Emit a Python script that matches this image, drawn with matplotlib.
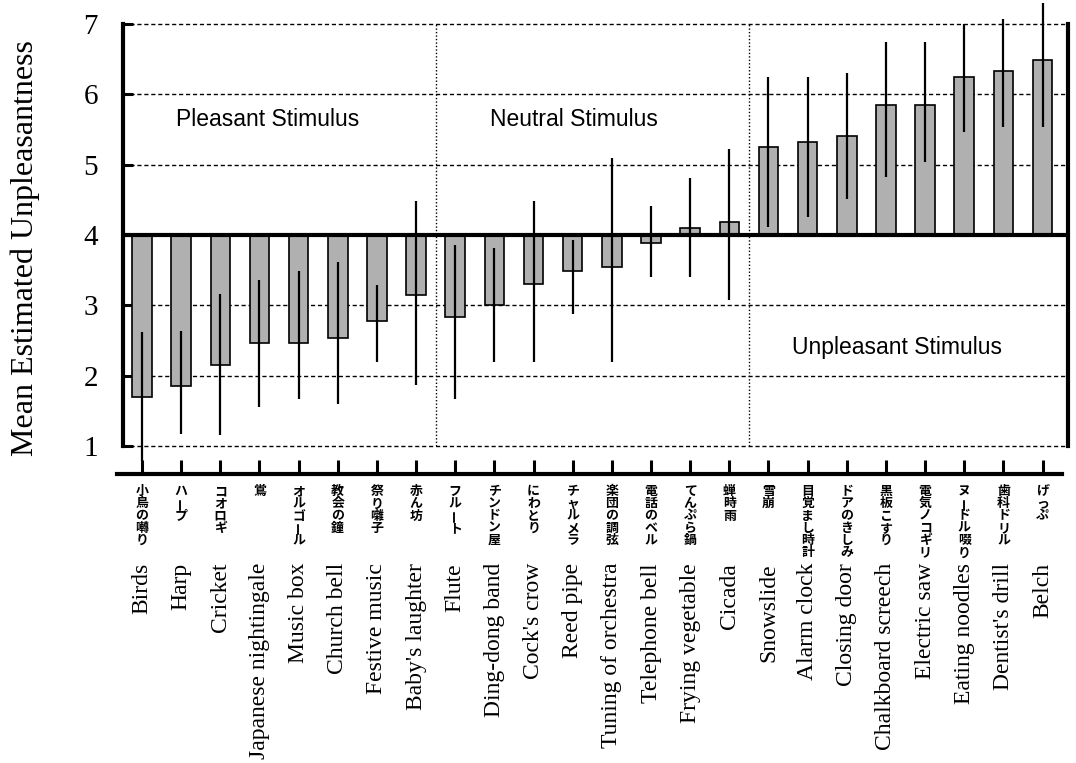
import numpy as np
import matplotlib
matplotlib.use("Agg")
import matplotlib.pyplot as plt

# sound stimuli, sorted by mean rating
en_labels = ["Birds", "Harp", "Cricket", "Japanese nightingale", "Music box",
             "Church bell", "Festive music", "Baby's laughter", "Flute",
             "Ding-dong band", "Cock's crow", "Reed pipe", "Tuning of orchestra",
             "Telephone bell", "Frying vegetable", "Cicada", "Snowslide",
             "Alarm clock", "Closing door", "Chalkboard screech", "Electric saw",
             "Eating noodles", "Dentist's drill", "Belch"]
jp_labels = ["小鳥の囀り", "ハープ", "コオロギ", "鴬", "オルゴール", "教会の鐘",
             "祭り囃子", "赤ん坊", "フルート", "チンドン屋", "にわとり", "チャルメラ",
             "楽団の調弦", "電話のベル", "てんぷら鍋", "蝉時雨", "雪崩", "目覚まし時計",
             "ドアのきしみ", "黒板こすり", "電気ノコギリ", "ヌードル啜り", "歯科ドリル",
             "げっぷ"]

means = np.array([1.69, 1.85, 2.15, 2.46, 2.46, 2.53, 2.78, 3.14, 2.84, 3.00,
                  3.30, 3.49, 3.55, 3.88, 4.10, 4.19, 5.25, 5.32, 5.41, 5.85,
                  5.85, 6.25, 6.33, 6.49])
err_lo = np.array([0.79, 1.17, 1.15, 1.55, 1.67, 1.60, 2.19, 1.87, 1.67, 2.19,
                   2.19, 2.87, 2.19, 3.40, 3.40, 3.07, 4.12, 4.26, 4.51, 4.82,
                   5.04, 5.46, 5.53, 5.53])
err_hi = np.array([2.62, 2.64, 3.16, 3.36, 3.49, 3.62, 3.29, 4.49, 3.86, 3.81,
                   4.49, 3.93, 5.10, 4.41, 4.81, 5.23, 6.24, 6.24, 6.30, 6.75,
                   6.75, 7.00, 7.07, 7.30])

x = np.arange(len(means))
serif = "Liberation Serif"
jp_font = ["Noto Sans CJK JP", "DejaVu Sans"]

fig = plt.figure(figsize=(10.76, 7.63), dpi=100)
ax = fig.add_axes([0.1143, 0.4155, 0.8783, 0.553])

# grid
for yv in [1, 2, 3, 5, 6, 7]:
    ax.axhline(yv, color="black", lw=1.0, ls=(0, (3, 2)), zorder=1, clip_on=False)
for xv in [7.5, 15.5]:
    ax.axvline(xv, color="black", lw=1.0, ls=(0, (1, 1.5)), zorder=1)

ax.bar(x, means - 4, bottom=4, width=0.5, color="#b0b0b0",
       edgecolor="black", linewidth=1.2, zorder=2)
ax.axhline(4, color="black", lw=3, zorder=3)

eb = ax.errorbar(x, means, yerr=[means - err_lo, err_hi - means], fmt="none",
                 ecolor="black", elinewidth=1.6, capsize=0, zorder=4)
for c in eb.lines[2]:
    c.set_clip_on(False)

ax.set_xlim(-0.485, 23.65)
ax.set_ylim(1, 7)
ax.set_yticks([1, 2, 3, 4, 5, 6, 7])
ax.set_yticklabels(["1", "2", "3", "4", "5", "6", "7"], fontsize=21, family=serif)
ax.tick_params(axis="y", direction="in", length=7, width=2.2, pad=18)

ax.set_xticks(x)
ax.tick_params(axis="x", direction="in", length=10, width=2.2, labelbottom=False)

ax.spines["top"].set_visible(False)
ax.spines["left"].set_linewidth(3)
ax.spines["right"].set_linewidth(3)
ax.spines["bottom"].set_linewidth(3)
ax.spines["bottom"].set_position(("outward", 20))
ax.spines["bottom"].set_bounds(-0.64, 23.5)

# category labels
for i in range(len(x)):
    for k, ch in enumerate(jp_labels[i]):
        ax.annotate(ch, xy=(i, 0), xycoords=("data", "axes fraction"),
                    xytext=(0, -45 - 12.3 * k), textcoords="offset pixels",
                    ha="center", va="center", fontsize=9.3, fontweight="bold",
                    family=jp_font, rotation=90 if ch == "ー" else 0,
                    annotation_clip=False)
    ax.annotate(en_labels[i], xy=(i, 0), xycoords=("data", "axes fraction"),
                xytext=(0, -117), textcoords="offset pixels", rotation=90,
                ha="center", va="top", fontsize=17, family=serif,
                annotation_clip=False)

ax.text(3.22, 5.64, "Pleasant Stimulus", fontsize=16.5, family="Liberation Sans",
        ha="center", va="center")
ax.text(11.03, 5.64, "Neutral Stimulus", fontsize=16.5, family="Liberation Sans",
        ha="center", va="center")
ax.text(19.27, 2.4, "Unpleasant Stimulus", fontsize=16.5, family="Liberation Sans",
        ha="center", va="center")

fig.text(0.0232, 1 - 248 / 763, "Mean Estimated Unpleasantness", rotation=90,
         ha="center", va="center", fontsize=23, family=serif)

fig.savefig("out.png", dpi=100)
